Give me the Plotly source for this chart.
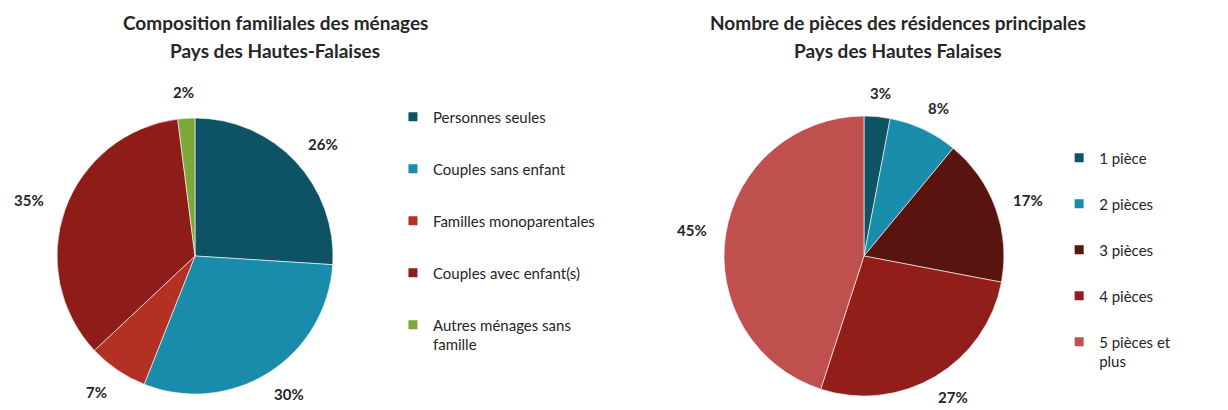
import math
import plotly.graph_objects as go

# Household composition, Pays des Hautes-Falaises (% of households)
menage_labels = [
    "Personnes seules",
    "Couples sans enfant",
    "Familles monoparentales",
    "Couples avec enfant(s)",
    "Autres ménages sans<br>famille",
]
menage_values = [26, 30, 7, 35, 2]
menage_colors = ["#0E5266", "#1A8CAB", "#B33025", "#8E1D1A", "#7DA83A"]

# Number of rooms in main residences (% of dwellings)
pieces_labels = ["1 pièce", "2 pièces", "3 pièces", "4 pièces", "5 pièces et<br>plus"]
pieces_values = [3, 8, 17, 27, 45]
pieces_colors = ["#0F5464", "#1A8DAD", "#5A1410", "#921E1A", "#C0504D"]

title_left = ["Composition familiales des ménages", "Pays des Hautes-Falaises"]
title_right = ["Nombre de pièces des résidences principales", "Pays des Hautes Falaises"]

W, H = 1228, 410
FONT = "Lato, 'Open Sans', sans-serif"
TEXT_COLOR = "#262626"

fig = go.Figure()
annotations = []


def add_pie(labels, values, colors, cx, cy, r, label_gap, label_half_width):
    domain = dict(x=[(cx - r) / W, (cx + r) / W], y=[1 - (cy + r) / H, 1 - (cy - r) / H])
    fig.add_trace(go.Pie(
        labels=labels,
        values=values,
        sort=False,
        direction="clockwise",
        rotation=0,
        marker=dict(colors=colors, line=dict(color="rgba(255,255,255,0.6)", width=1)),
        textinfo="none",
        showlegend=False,
        domain=domain,
        hoverinfo="label+percent",
    ))
    # percentage labels placed just outside each slice, along its mid angle,
    # pushed sideways by half the label width so the box clears the rim
    total = sum(values)
    cum = 0
    for v in values:
        mid = (cum + v / 2) / total * 2 * math.pi
        cum += v
        R = r + label_gap
        px = cx + (R + label_half_width) * math.sin(mid)
        py = cy - R * math.cos(mid)
        annotations.append(dict(
            text=f"<b>{v}%</b>", x=px / W, y=1 - py / H,
            xref="paper", yref="paper", xanchor="center", yanchor="middle",
            showarrow=False,
            font=dict(family=FONT, size=15, color=TEXT_COLOR),
        ))


add_pie(menage_labels, menage_values, menage_colors, 195, 256, 138, 26, 12)
add_pie(pieces_labels, pieces_values, pieces_colors, 864, 256, 140, 24, 10)


def add_legend_entries(labels, colors, legend_name):
    for i, (lab, col) in enumerate(zip(labels, colors)):
        fig.add_trace(go.Scatter(
            x=[None], y=[None],
            mode="markers",
            marker=dict(symbol="square", size=9, color=col),
            name=lab,
            legend=legend_name,
            legendgroup=f"{legend_name}-{i}",
            showlegend=True,
        ))


add_legend_entries(menage_labels, menage_colors, "legend")
add_legend_entries(pieces_labels, pieces_colors, "legend2")


def add_title(lines, cx):
    for line, y in zip(lines, [22, 50]):
        annotations.append(dict(
            text=f"<b>{line}</b>", x=cx / W, y=1 - y / H,
            xref="paper", yref="paper", xanchor="center", yanchor="middle",
            showarrow=False,
            font=dict(family=FONT, size=19, color=TEXT_COLOR),
        ))


add_title(title_left, 275)
add_title(title_right, 898)

legend_common = dict(
    font=dict(family=FONT, size=15, color=TEXT_COLOR),
    bgcolor="rgba(0,0,0,0)",
    valign="top",
    itemwidth=30,
    xanchor="left",
    yanchor="top",
)

fig.update_layout(
    width=W,
    height=H,
    margin=dict(l=0, r=0, t=0, b=0),
    paper_bgcolor="white",
    plot_bgcolor="white",
    xaxis=dict(visible=False),
    yaxis=dict(visible=False),
    legend=dict(x=0.320, y=0.755, tracegroupgap=29.5, **legend_common),
    legend2=dict(x=0.8625, y=0.655, tracegroupgap=23.5, **legend_common),
    annotations=annotations,
)

fig.write_html("out.html")
